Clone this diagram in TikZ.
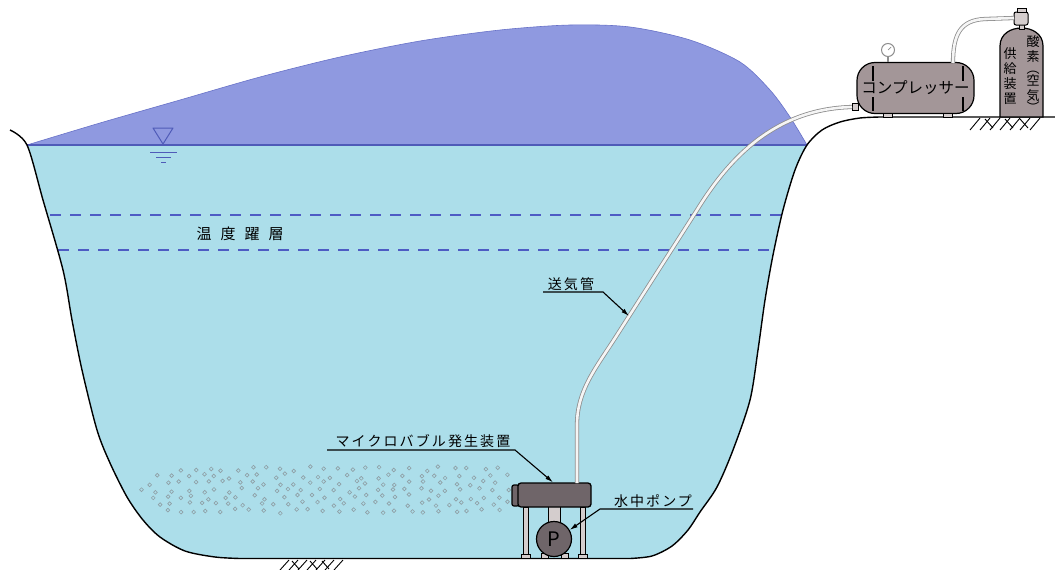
\documentclass[tikz,border=0pt]{standalone}
\usepackage{fontspec}
\newfontfamily\jp{Noto Sans CJK JP}
\newfontfamily\jpsp[LetterSpace=15]{Noto Sans CJK JP}
\usetikzlibrary{arrows.meta,calc}

\definecolor{waterc}{HTML}{ACDEEA}
\definecolor{moundc}{HTML}{8F99E0}
\definecolor{moundedge}{HTML}{6872C8}
\definecolor{surfc}{HTML}{4F5BB8}
\definecolor{dashc}{HTML}{4E5CC4}
\definecolor{tankc}{HTML}{A39698}
\definecolor{devc}{HTML}{6F6569}
\definecolor{legc}{HTML}{D4CDCD}
\definecolor{pipec}{HTML}{8E8E8E}
\definecolor{bubc}{HTML}{8FA0A6}

\begin{document}
\begin{tikzpicture}[x=1pt,y=-1pt,
  wall/.style={line width=1.4pt, black, line join=round},
  leader/.style={line width=1.1pt, black},
  arrowleader/.style={leader, -{Latex[length=8pt,width=4.5pt]}},
  pipe/.style={draw=pipec, line width=0.8pt, double=white!92!gray, double distance=2.6pt},
  lab/.style={font=\jpsp\fontsize{14}{15}\selectfont, inner sep=0pt},
  tank/.style={draw=black, line width=1.2pt, fill=tankc},
  part/.style={draw=black, line width=1pt, fill=legc},
  bubble/.style={draw=bubc, line width=0.65pt},
  hatch/.style={line width=0.9pt, black},
  vtext/.style={font=\jp\fontsize{13}{15}\selectfont, inner sep=0pt, align=center}]

\useasboundingbox (0,0) rectangle (1055,570);
\fill[white] (0,0) rectangle (1055,570);

% raised water mound above the surface
\fill[moundc] plot[smooth] coordinates {(27,145) (100,123) (180,100) (260,77) (340,57) (420,41) (500,30) (570,25) (630,27) (690,40) (740,62) (770,90) (790,117) (807,145)} -- cycle;
\draw[moundedge, line width=0.6pt] plot[smooth] coordinates {(27,145) (100,123) (180,100) (260,77) (340,57) (420,41) (500,30) (570,25) (630,27) (690,40) (740,62) (770,90) (790,117) (807,145)};

% water body inside the basin
\begin{scope}
\clip (0,145) rectangle (1055,570);
\fill[waterc] plot[smooth] coordinates {(10,130) (27,145) (43,200) (63,270) (72,320) (82,370) (97,430) (110,463) (127,497) (143,520) (160,537) (185,551) (215,557) (240,558.5)}
 -- plot[smooth] coordinates {(630,558.5) (652,556) (672,546) (688,530) (700,512) (717,487) (733,450) (750,400) (758,350) (765,300) (773,255) (783,210) (795,170) (807,145) (822,130) (840,122) (860,118) (880,117)} -- cycle;
\end{scope}

% water surface
\draw[surfc, line width=1.3pt] (27,145) -- (807,145);

% thermocline
\draw[dashc, line width=1.8pt, dash pattern=on 11pt off 9pt] (50,215) -- (782,215);
\draw[dashc, line width=1.8pt, dash pattern=on 11pt off 9pt] (58,250) -- (774,250);
\node[font=\jp\fontsize{15}{16}\selectfont, inner sep=0pt] (thermo) at (240,234) {温\hspace{9pt}度\hspace{9pt}躍\hspace{9pt}層};

% basin outline and ground
\draw[wall] plot[smooth] coordinates {(10,130) (27,145) (43,200) (63,270) (72,320) (82,370) (97,430) (110,463) (127,497) (143,520) (160,537) (185,551) (215,557) (240,558.5)}
 -- plot[smooth] coordinates {(630,558.5) (652,556) (672,546) (688,530) (700,512) (717,487) (733,450) (750,400) (758,350) (765,300) (773,255) (783,210) (795,170) (807,145) (822,130) (840,122) (860,118) (880,117)} -- (1055,117);

% water level mark
\draw[surfc, line width=1pt, line join=round] (153,128) -- (173,128) -- (163,144) -- cycle;
\draw[surfc, line width=0.9pt] (150,152) -- (177,152) (156,157) -- (171,157) (161,162) -- (166,162);

% micro bubbles
\pgfmathsetseed{42}
\foreach \row in {0,...,6}{
  \foreach \col in {0,...,25}{
    \pgfmathsetmacro\bx{136+14.5*\col+7.25*mod(\row,2)+7*rnd-3.5}
    \pgfmathsetmacro\by{469+7*\row+5*rnd-2.5}
    \pgfmathtruncatemacro\ok{and(abs(\by-490.5)<=24*min(1,(\bx-128)/40), \bx<509)}
    \ifnum\ok=1 \draw[bubble] (\bx,\by) circle[radius=1.9pt]; \fi
  }
}

% hatched ground under the basin
\foreach \xx in {280,289,...,334} \draw[hatch] (\xx+9,560) -- (\xx,570);
\foreach \xx in {292,310,322} \draw[hatch] (\xx,561) -- (\xx+7,569);

% legs, neck and pump
\draw[part] (523,507) rectangle (528,555);
\draw[part] (580,507) rectangle (585,555);
\draw[part] (521,554) rectangle (530,558.5);
\draw[part] (578,554) rectangle (587,558.5);
\draw[part] (541,553) rectangle (548,558.5);
\draw[part] (561,553) rectangle (568,558.5);
\draw[part] (548,506) rectangle (560,523);
\node[circle, draw, line width=1.2pt, fill=devc, minimum size=35pt, inner sep=0pt,
      font=\jp\fontsize{20}{20}\selectfont] (pump) at (554,539) {P};

% micro bubble generator
\draw[line width=1.2pt, fill=devc, rounded corners=2pt] (512,485) rectangle (519,506);
\node[draw, line width=1.3pt, fill=devc, rounded corners=3pt, minimum width=73pt,
      minimum height=24pt, inner sep=0pt] (mb) at (554.5,495) {};
\coordinate (pipeA) at (577,483);

% compressor
\node[tank, rounded corners=18pt, minimum width=117pt, minimum height=51pt, inner sep=0pt,
      font=\jp\fontsize{15.5}{16}\selectfont] (comp) at (915.5,88) {コンプレッサー};
\draw[line width=1.1pt] (873,66) -- (873,81) (873,97) -- (873,111)
                        (963,66) -- (963,81) (963,97) -- (963,111);
\draw[part] (883,113.5) rectangle (892,117);
\draw[part] (943,113.5) rectangle (952,117);
\draw[pipec, line width=2.5pt] (888,56) -- (comp.north -| 888,0);
\node[circle, draw=pipec, line width=1pt, fill=white, minimum size=13pt, inner sep=0pt] (gauge) at (888,50) {};
\draw[pipec, line width=0.7pt] (gauge.center) -- ++(3,-3);
\draw[part] (852,103.5) rectangle (858.5,110.5);
\coordinate (pipeB) at (852,107);

% air pipe from the compressor down to the generator
\draw[pipe] (pipeA) -- (577,425) .. controls (577,390) and (596,368) .. (617,335)
  -- (697,210) .. controls (725,165) and (770,109) .. (pipeB);

% oxygen (air) supply cylinder
\draw[tank] (1000,117) -- (1000,46) .. controls (1000,22) and (1043,22) .. (1043,46) -- (1043,117) -- cycle;
\draw[part] (1019.5,24) rectangle (1024,29);
\draw[part, rounded corners=2pt] (1014,12) rectangle (1028,25);
\draw[part] (1017,8) rectangle (1026,12.5);
\coordinate (hoseA) at (1014,18);
\coordinate (hoseB) at (953,63);
\draw[pipe] (hoseA) -- (985,19) .. controls (960,20) and (953,35) .. (hoseB);
\node[vtext, anchor=north] (oxy) at (1033,35) {酸\\素\\[-3pt]︵\\[-3pt]空\\気\\[-3pt]︶};
\node[vtext, anchor=north] (supply) at (1010,47) {供\\給\\装\\置};

% hatched ground under the cylinder
\foreach \xx in {970,980,...,1030} \draw[hatch] (\xx+10,118) -- (\xx,130);
\foreach \xx in {985,1005,1020} \draw[hatch] (\xx,119) -- (\xx+8,128);

% labels with leaders
\node[lab] (lblair) at (571,284) {送気管};
\coordinate (airU) at (543,292);
\coordinate (airK) at (603,292);
\coordinate (airT) at (629,316);
\draw[arrowleader] (airU) -- (airK) -- (airT);

\node[lab] (lblmb) at (423,441) {マイクロバブル発生装置};
\coordinate (mbU) at (327,450);
\coordinate (mbK) at (515,450);
\draw[arrowleader] (mbU) -- (mbK) -- ($(mb.north west)!0.48!(mb.north east)$);

\node[lab] (lblp) at (653,501) {水中ポンプ};
\coordinate (pU) at (693,509);
\coordinate (pK) at (600,509);
\draw[arrowleader] (pU) -- (pK) -- (pump.30);
\end{tikzpicture}
\end{document}
